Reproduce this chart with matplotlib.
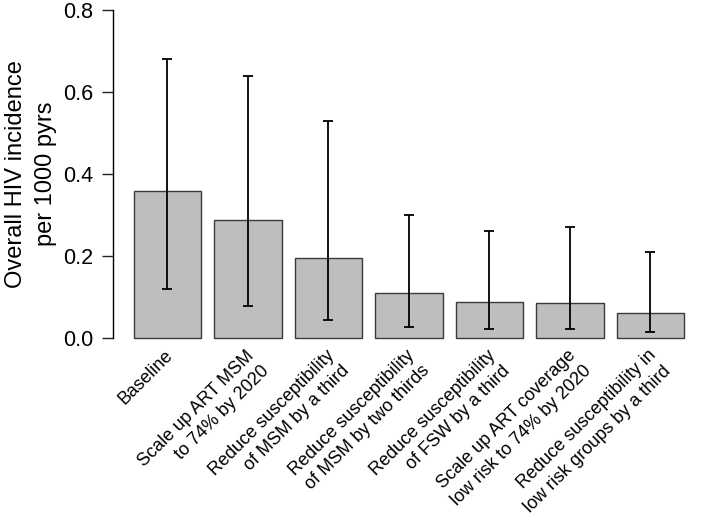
import matplotlib
matplotlib.use("Agg")
import matplotlib.pyplot as plt
import matplotlib.transforms as mtransforms
import numpy as np

plt.rcParams["font.family"] = ["Liberation Sans", "DejaVu Sans"]

# ---------------------------------------------------------------------------
# Data
# ---------------------------------------------------------------------------
scenarios = [
    "Baseline",
    "Scale up ART MSM\nto 74% by 2020",
    "Reduce susceptibility\nof MSM by a third",
    "Reduce susceptibility\nof MSM by two thirds",
    "Reduce susceptibility\nof FSW by a third",
    "Scale up ART coverage\nlow risk to 74% by 2020",
    "Reduce susceptibility in\nlow risk groups by a third",
]
incidence = [0.359, 0.289, 0.196, 0.110, 0.088, 0.086, 0.062]
ci_low = [0.120, 0.079, 0.044, 0.027, 0.023, 0.021, 0.015]
ci_high = [0.680, 0.640, 0.530, 0.300, 0.260, 0.270, 0.210]
y_ticks = [0.0, 0.2, 0.4, 0.6, 0.8]

# ---------------------------------------------------------------------------
# Figure
# ---------------------------------------------------------------------------
W, H = 709, 528
fig = plt.figure(figsize=(W / 100, H / 100), dpi=100)
ax = fig.add_axes([113 / W, 1 - 338 / H, 1 - 113 / W, (338 - 10) / H])

x = np.arange(len(scenarios))
inc = np.array(incidence)
err = np.vstack([inc - np.array(ci_low), np.array(ci_high) - inc])

ax.bar(x, inc, width=0.833, color="#bebebe", edgecolor="#3a3a3a",
       linewidth=1.0, clip_on=False)
ax.errorbar(x, inc, yerr=err, fmt="none", ecolor="black", elinewidth=1.3,
            capsize=3.6, capthick=1.3, clip_on=False)

ax.set_xlim(-0.677, 6.727)
ax.set_ylim(0, 0.8)
ax.set_yticks(y_ticks)
ax.set_yticklabels([f"{t:.1f}" for t in y_ticks], fontsize=15.5)
ax.tick_params(axis="y", length=8, width=1.0, pad=6, color="#222222")
ax.set_xticks([])

for side in ["top", "right", "bottom"]:
    ax.spines[side].set_visible(False)
ax.spines["left"].set_linewidth(1.0)

ax.set_ylabel("Overall HIV incidence\nper 1000 pyrs", fontsize=17,
              linespacing=1.45)
ax.yaxis.set_label_coords((57 - 113) / (W - 113), 0.5)

# rotated scenario labels below the bars
trans = mtransforms.blended_transform_factory(ax.transData, ax.transAxes)
offset = mtransforms.ScaledTranslation(-3 / 100, -9 / 100, fig.dpi_scale_trans)
for xi, lab in zip(x, scenarios):
    ax.text(xi, 0, lab, transform=trans + offset, rotation=45,
            rotation_mode="anchor", ha="right", va="top",
            multialignment="right", fontsize=13, linespacing=1.35)

plt.savefig("out.png", dpi=100)
plt.close()
